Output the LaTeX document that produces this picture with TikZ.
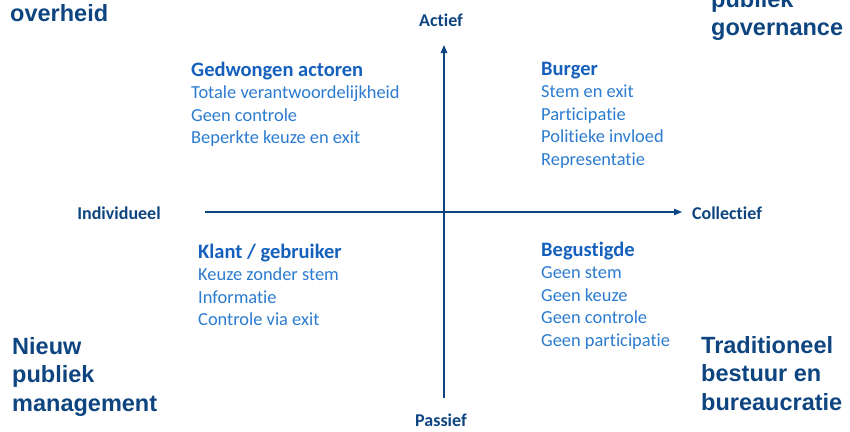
\documentclass[tikz,border=0pt]{standalone}
\usepackage{fontspec}
\setmainfont{Carlito}[Ligatures=NoCommon]
\newfontfamily\arialfont{Liberation Sans}
\usetikzlibrary{arrows.meta}
\definecolor{navy}{RGB}{14,69,128}
\definecolor{headblue}{RGB}{21,96,189}
\definecolor{itemblue}{RGB}{43,123,208}
\newcommand{\qhead}[1]{{\color{headblue}\bfseries\fontsize{20.5}{22.4}\selectfont #1}}

\begin{document}
\begin{tikzpicture}[x=1pt, y=-1pt, >={Triangle[length=8pt,width=6.5pt]},
    axislabel/.style={font=\bfseries\fontsize{18}{20}\selectfont, text=navy, inner sep=0pt},
    corner/.style={font=\arialfont\bfseries\fontsize{23.5}{28.5}\selectfont, text=navy, align=left, inner sep=0pt, anchor=north west},
    quadrant/.style={font=\fontsize{18.4}{22.4}\selectfont, text=itemblue, align=left, inner sep=0pt, anchor=north west}]
        \useasboundingbox (0,0) rectangle (850,431);

        % axis labels
        \node[axislabel] (actief) at (441,20) {Actief};
        \node[axislabel] (passief) at (441,420) {Passief};
        \node[axislabel] (indiv) at (119,213) {Individueel};
        \node[axislabel] (collect) at (727,213) {Collectief};

        % axis end points
        \coordinate (vtop) at (444,45);
        \coordinate (vbot) at (444,398);
        \coordinate (hleft) at (205,212);
        \coordinate (hright) at (682,212);

        % axes
        \draw[->, navy, line width=1.2pt] (vbot) -- (vtop);
        \draw[->, navy, line width=1.2pt] (hleft) -- (hright);

        % quadrants
        \node[quadrant] (gedwongen) at (191,62) {\qhead{Gedwongen actoren}\\ Totale verantwoordelijkheid\\ Geen controle\\ Beperkte keuze en exit};
        \node[quadrant] (burger) at (541,62) {\qhead{Burger}\\ Stem en exit\\ Participatie\\ Politieke invloed\\ Representatie};
        \node[quadrant] (klant) at (198,244) {\qhead{Klant / gebruiker}\\ Keuze zonder stem\\ Informatie\\ Controle via exit};
        \node[quadrant] (begunstigde) at (541,242) {\qhead{Begustigde}\\ Geen stem\\ Geen keuze\\ Geen controle\\ Geen participatie};

        % corner labels
        \node[corner] (overheid) at (10,4) {overheid};
        \node[corner] (governance) at (711,-10) {publiek\\ governance};
        \node[corner] (npm) at (12,337) {Nieuw\\ publiek\\ management};
        \node[corner] (traditioneel) at (701,336) {Traditioneel\\ bestuur en\\ bureaucratie};
    \end{tikzpicture}
\end{document}
